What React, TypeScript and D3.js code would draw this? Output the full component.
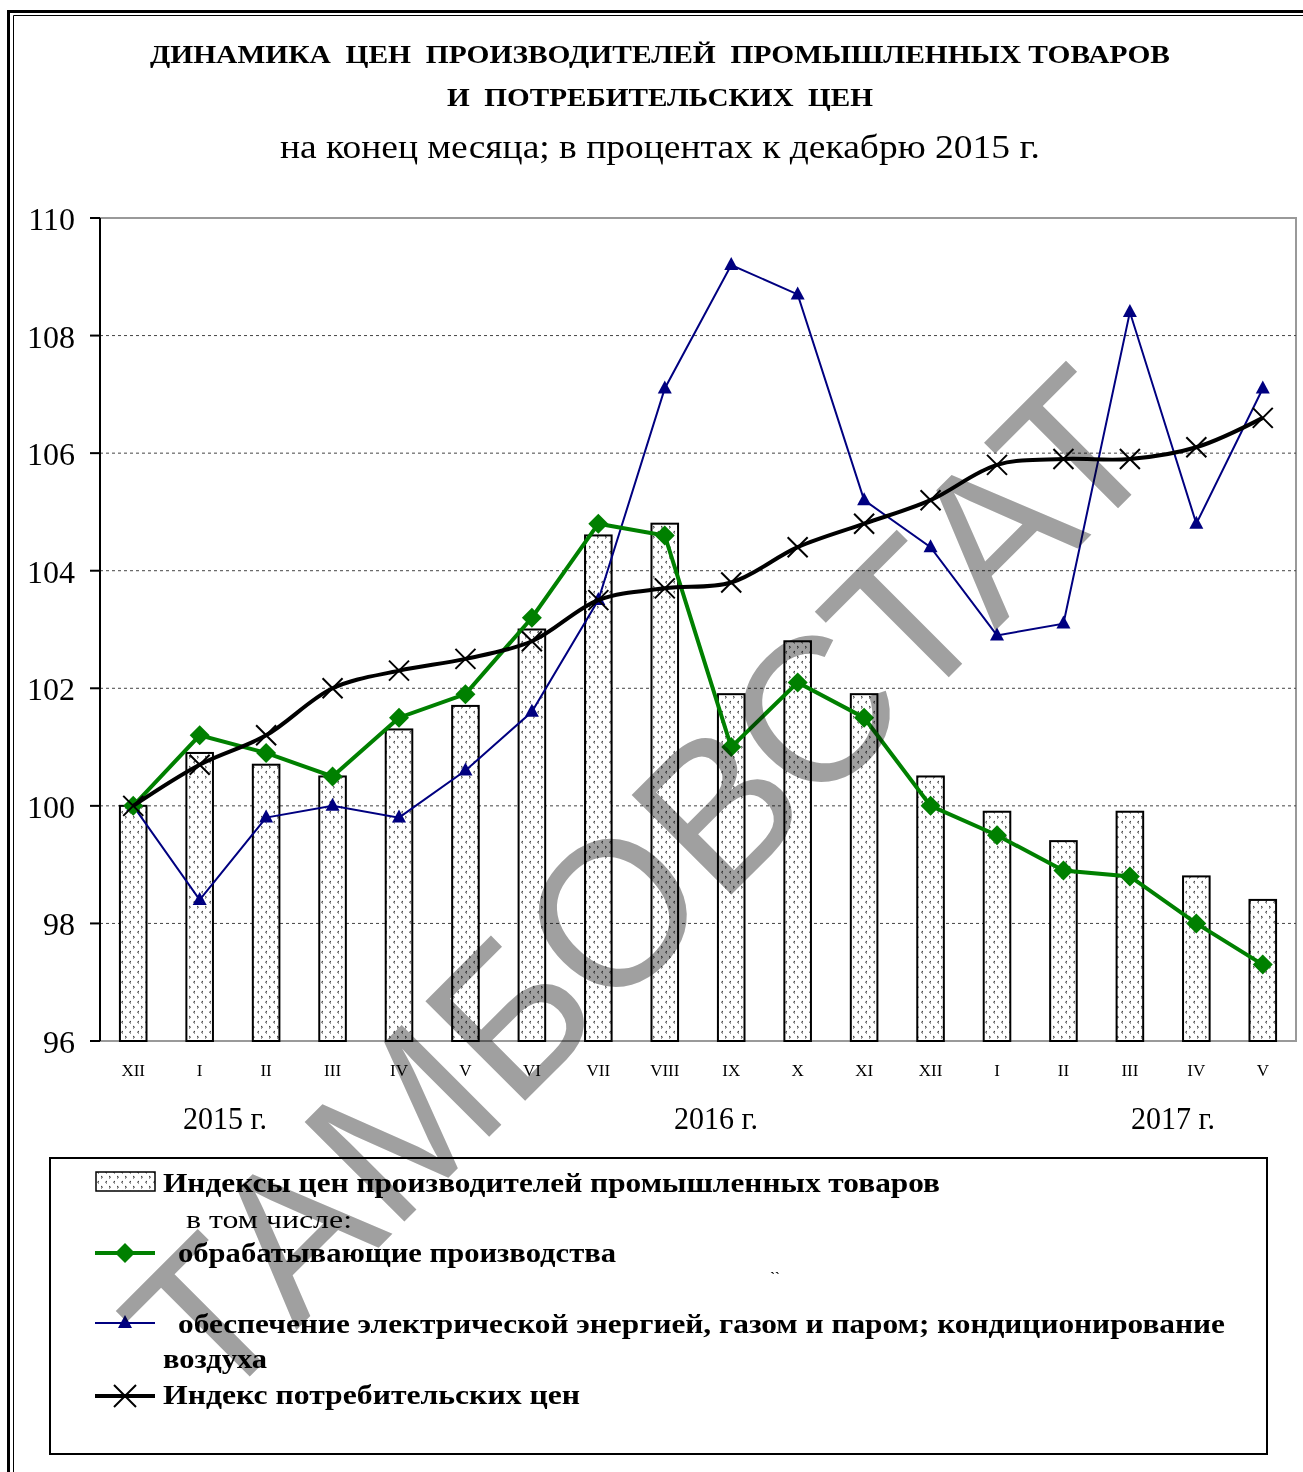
import React from 'react';
import * as d3 from 'd3';

const months = ['XII', 'I', 'II', 'III', 'IV', 'V', 'VI', 'VII', 'VIII', 'IX', 'X', 'XI', 'XII', 'I', 'II', 'III', 'IV', 'V'];
const producerIdx = [100, 100.9, 100.7, 100.5, 101.3, 101.7, 103.0, 104.6, 104.8, 101.9, 102.8, 101.9, 100.5, 99.9, 99.4, 99.9, 98.8, 98.4];
const manufacturing = [100, 101.2, 100.9, 100.5, 101.5, 101.9, 103.2, 104.8, 104.6, 101.0, 102.1, 101.5, 100.0, 99.5, 98.9, 98.8, 98.0, 97.3];
const energy = [100, 98.4, 99.8, 100.0, 99.8, 100.6, 101.6, 103.5, 107.1, 109.2, 108.7, 105.2, 104.4, 102.9, 103.1, 108.4, 104.8, 107.1];
const cpi = [100, 100.7, 101.2, 102.0, 102.3, 102.5, 102.8, 103.5, 103.7, 103.8, 104.4, 104.8, 105.2, 105.8, 105.9, 105.9, 106.1, 106.6];
const yTicks = [96, 98, 100, 102, 104, 106, 108, 110];
const years = [
  { label: '2015 г.', x: 225 },
  { label: '2016 г.', x: 716 },
  { label: '2017 г.', x: 1173 },
];

const W = 1303;
const H = 1472;
const plot = { left: 100, right: 1296, top: 218, bottom: 1041 };
const serif = '"Liberation Serif", "Times New Roman", serif';

const App = () => {
  const x = d3
    .scaleBand<number>()
    .domain(months.map((_, i) => i))
    .range([plot.left, plot.right])
    .padding(0);
  const step = x.step();
  const cx = (i: number) => (x(i) as number) + step / 2;
  const y = d3.scaleLinear().domain([96, 110]).range([plot.bottom, plot.top]);
  const barW = step * 0.4;

  const straight = d3
    .line<number>()
    .x((_, i) => cx(i))
    .y((d) => y(d));
  const smooth = d3
    .line<number>()
    .x((_, i) => cx(i))
    .y((d) => y(d))
    .curve(d3.curveCatmullRom.alpha(0.5));

  return (
    <svg
      width={W}
      height={H}
      style={{ position: 'absolute', left: 0, top: 0, background: '#fff' }}
      fontFamily={serif}
    >
      <defs>
        <pattern id="dots" width="8" height="10" patternUnits="userSpaceOnUse">
          <rect width="8" height="10" fill="#fff" />
          <path d="M3 1 L1.5 2.2 L3 3.4" stroke="#333" strokeWidth="1" fill="none" />
          <path d="M5 6 L6.5 7.2 L5 8.4" stroke="#333" strokeWidth="1" fill="none" />
        </pattern>
      </defs>
      <rect width={W} height={H} fill="#fff" />

      {/* outer double frame */}
      <path d={`M8.5 ${H} V11.5 H${W + 5}`} fill="none" stroke="#000" strokeWidth={3} />
      <path d={`M13.5 ${H} V15.5 H${W + 5}`} fill="none" stroke="#000" strokeWidth={1} />

      {/* titles */}
      <text x={660} y={63} textAnchor="middle" fontWeight="bold" fontSize={26} textLength={1020} lengthAdjust="spacingAndGlyphs" style={{ whiteSpace: 'pre' }}>
        {'ДИНАМИКА  ЦЕН  ПРОИЗВОДИТЕЛЕЙ  ПРОМЫШЛЕННЫХ ТОВАРОВ'}
      </text>
      <text x={660} y={106} textAnchor="middle" fontWeight="bold" fontSize={26} textLength={426} lengthAdjust="spacingAndGlyphs" style={{ whiteSpace: 'pre' }}>
        {'И  ПОТРЕБИТЕЛЬСКИХ  ЦЕН'}
      </text>
      <text x={660} y={158} textAnchor="middle" fontSize={34} textLength={760} lengthAdjust="spacingAndGlyphs">
        на конец месяца; в процентах к декабрю 2015 г.
      </text>

      {/* plot frame + grid */}
      <path d={`M${plot.left} ${plot.top} H${plot.right} V${plot.bottom} H${plot.left}`} fill="none" stroke="#999" strokeWidth={2} />
      {yTicks.filter((t) => t !== 96 && t !== 110).map((t) => (
        <line key={t} x1={plot.left} x2={plot.right} y1={y(t)} y2={y(t)} stroke="#444" strokeWidth={1} strokeDasharray="3,3" />
      ))}

      {/* bars */}
      {producerIdx.map((v, i) => (
        <rect key={i} x={cx(i) - barW / 2} y={y(v)} width={barW} height={y(96) - y(v)} fill="url(#dots)" stroke="#000" strokeWidth={2} />
      ))}

      {/* y axis */}
      <line x1={plot.left} x2={plot.left} y1={plot.top} y2={plot.bottom} stroke="#000" strokeWidth={2} />
      {yTicks.map((t) => (
        <g key={t}>
          <line x1={plot.left - 10} x2={plot.left} y1={y(t)} y2={y(t)} stroke="#000" strokeWidth={2} />
          <text x={75} y={y(t) + 12} textAnchor="end" fontSize={32}>
            {t}
          </text>
        </g>
      ))}

      {/* lines */}
      <path d={straight(energy) || ''} fill="none" stroke="#000080" strokeWidth={2} />
      {energy.map((v, i) => (
        <path key={i} d={`M${cx(i)} ${y(v) - 8} L${cx(i) + 7} ${y(v) + 5} L${cx(i) - 7} ${y(v) + 5} Z`} fill="#000080" />
      ))}
      <path d={straight(manufacturing) || ''} fill="none" stroke="#008000" strokeWidth={4} />
      {manufacturing.map((v, i) => (
        <path key={i} d={`M${cx(i)} ${y(v) - 10} L${cx(i) + 10} ${y(v)} L${cx(i)} ${y(v) + 10} L${cx(i) - 10} ${y(v)} Z`} fill="#008000" />
      ))}
      <path d={smooth(cpi) || ''} fill="none" stroke="#000" strokeWidth={4} />
      {cpi.map((v, i) => (
        <path key={i} d={`M${cx(i) - 10} ${y(v) - 10} L${cx(i) + 10} ${y(v) + 10} M${cx(i) + 10} ${y(v) - 10} L${cx(i) - 10} ${y(v) + 10}`} stroke="#000" strokeWidth={2} />
      ))}

      {/* x labels */}
      {months.map((m, i) => (
        <text key={i} x={cx(i)} y={1076} textAnchor="middle" fontSize={17}>
          {m}
        </text>
      ))}
      {years.map((yr) => (
        <text key={yr.label} x={yr.x} y={1129} textAnchor="middle" fontSize={31} textLength={84} lengthAdjust="spacingAndGlyphs">
          {yr.label}
        </text>
      ))}

      {/* legend */}
      <rect x={50} y={1158} width={1217} height={296} fill="none" stroke="#000" strokeWidth={2} />
      <rect x={96} y={1172} width={59} height={19} fill="url(#dots)" stroke="#000" strokeWidth={1.5} />
      <text x={163} y={1192} fontWeight="bold" fontSize={27} textLength={777} lengthAdjust="spacingAndGlyphs">
        Индексы цен производителей промышленных товаров
      </text>
      <text x={186} y={1228} fontSize={25} textLength={166} lengthAdjust="spacingAndGlyphs">
        в том числе:
      </text>
      <line x1={95} x2={155} y1={1253} y2={1253} stroke="#008000" strokeWidth={4} />
      <path d="M125 1243 L135 1253 L125 1263 L115 1253 Z" fill="#008000" />
      <text x={178} y={1262} fontWeight="bold" fontSize={27} textLength={438} lengthAdjust="spacingAndGlyphs">
        обрабатывающие производства
      </text>
      <text x={775} y={1282} fontWeight="bold" fontSize={14} textAnchor="middle">
        ˋˋ
      </text>
      <line x1={95} x2={155} y1={1323} y2={1323} stroke="#000080" strokeWidth={2} />
      <path d="M125 1315 L132 1328 L118 1328 Z" fill="#000080" />
      <text x={178} y={1333} fontWeight="bold" fontSize={27} textLength={1047} lengthAdjust="spacingAndGlyphs">
        обеспечение электрической энергией, газом и паром; кондиционирование
      </text>
      <text x={163} y={1368} fontWeight="bold" fontSize={27} textLength={104} lengthAdjust="spacingAndGlyphs">
        воздуха
      </text>
      <line x1={95} x2={155} y1={1396} y2={1396} stroke="#000" strokeWidth={4} />
      <path d="M114 1385 L136 1407 M136 1385 L114 1407" stroke="#000" strokeWidth={2} />
      <text x={163} y={1404} fontWeight="bold" fontSize={27} textLength={417} lengthAdjust="spacingAndGlyphs">
        Индекс потребительских цен
      </text>

      {/* watermark */}
      <text
        x={640}
        y={885}
        transform="rotate(-45 640 885)"
        textAnchor="middle"
        dominantBaseline="central"
        fontFamily='"Liberation Sans", Arial, sans-serif'
        fontSize={205}
        fill="#a0a0a0"
        style={{ mixBlendMode: 'multiply' }}
      >
        ТАМБОВСТАТ
      </text>
    </svg>
  );
};

export default App;
